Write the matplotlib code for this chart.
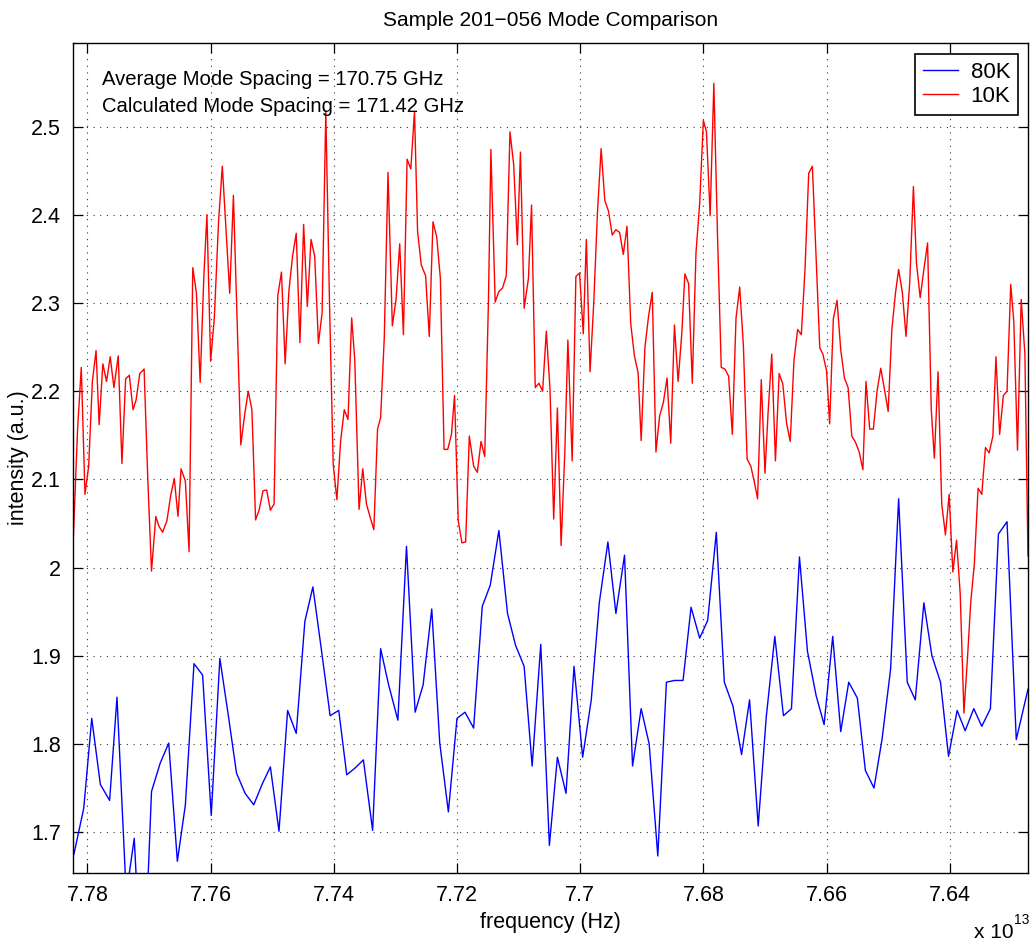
import numpy as np
import matplotlib
matplotlib.use("Agg")
import matplotlib.pyplot as plt
from matplotlib.ticker import FuncFormatter

plt.rcParams['font.family'] = ['Liberation Sans', 'DejaVu Sans']

# frequency in units of 1e13 Hz, intensity in a.u.
red_freq = [
    7.7823, 7.7816, 7.7810, 7.7804, 7.7798, 7.7792, 7.7786, 7.7781, 7.7775, 7.7769,
    7.7763, 7.7757, 7.7750, 7.7744, 7.7738, 7.7732, 7.7726, 7.7721, 7.7715, 7.7708,
    7.7702, 7.7696, 7.7689, 7.7684, 7.7678, 7.7671, 7.7665, 7.7659, 7.7653, 7.7648,
    7.7641, 7.7635, 7.7629, 7.7623, 7.7617, 7.7611, 7.7606, 7.7600, 7.7594, 7.7587,
    7.7581, 7.7575, 7.7569, 7.7563, 7.7557, 7.7551, 7.7545, 7.7539, 7.7533, 7.7527,
    7.7521, 7.7515, 7.7509, 7.7503, 7.7497, 7.7491, 7.7485, 7.7479, 7.7473, 7.7467,
    7.7461, 7.7455, 7.7449, 7.7443, 7.7437, 7.7431, 7.7425, 7.7419, 7.7413, 7.7407,
    7.7401, 7.7395, 7.7389, 7.7383, 7.7377, 7.7371, 7.7366, 7.7359, 7.7353, 7.7347,
    7.7341, 7.7335, 7.7329, 7.7324, 7.7318, 7.7312, 7.7305, 7.7299, 7.7293, 7.7287,
    7.7281, 7.7275, 7.7269, 7.7264, 7.7258, 7.7251, 7.7245, 7.7239, 7.7233, 7.7227,
    7.7221, 7.7215, 7.7209, 7.7204, 7.7198, 7.7192, 7.7186, 7.7180, 7.7173, 7.7167,
    7.7161, 7.7155, 7.7149, 7.7145, 7.7138, 7.7132, 7.7126, 7.7120, 7.7114, 7.7108,
    7.7102, 7.7097, 7.7091, 7.7084, 7.7079, 7.7073, 7.7067, 7.7061, 7.7055, 7.7049,
    7.7043, 7.7037, 7.7031, 7.7025, 7.7020, 7.7013, 7.7007, 7.7001, 7.6995, 7.6990,
    7.6984, 7.6978, 7.6972, 7.6966, 7.6960, 7.6954, 7.6948, 7.6942, 7.6936, 7.6930,
    7.6924, 7.6918, 7.6912, 7.6906, 7.6901, 7.6895, 7.6889, 7.6883, 7.6877, 7.6871,
    7.6865, 7.6859, 7.6853, 7.6847, 7.6841, 7.6835, 7.6830, 7.6824, 7.6818, 7.6812,
    7.6806, 7.6800, 7.6795, 7.6789, 7.6783, 7.6777, 7.6771, 7.6765, 7.6759, 7.6753,
    7.6747, 7.6741, 7.6735, 7.6729, 7.6723, 7.6717, 7.6712, 7.6706, 7.6700, 7.6695,
    7.6689, 7.6683, 7.6677, 7.6671, 7.6665, 7.6659, 7.6653, 7.6647, 7.6641, 7.6635,
    7.6629, 7.6623, 7.6617, 7.6611, 7.6606, 7.6600, 7.6595, 7.6589, 7.6583, 7.6577,
    7.6571, 7.6565, 7.6559, 7.6553, 7.6547, 7.6541, 7.6536, 7.6530, 7.6524, 7.6518,
    7.6512, 7.6506, 7.6500, 7.6494, 7.6488, 7.6483, 7.6477, 7.6471, 7.6465, 7.6459,
    7.6454, 7.6448, 7.6442, 7.6436, 7.6430, 7.6425, 7.6419, 7.6413, 7.6407, 7.6401,
    7.6395, 7.6389, 7.6383, 7.6377, 7.6371, 7.6366, 7.6360, 7.6354, 7.6348, 7.6342,
    7.6336, 7.6330, 7.6325, 7.6319, 7.6313, 7.6307, 7.6301, 7.6296, 7.6290, 7.6284,
    7.6278, 7.6273,
]
red_int = [
    2.032, 2.157, 2.227, 2.083, 2.115, 2.211, 2.246, 2.162, 2.231, 2.211,
    2.239, 2.204, 2.240, 2.118, 2.214, 2.218, 2.179, 2.190, 2.220, 2.225,
    2.100, 1.996, 2.058, 2.047, 2.040, 2.053, 2.081, 2.101, 2.058, 2.112,
    2.098, 2.018, 2.340, 2.311, 2.210, 2.330, 2.400, 2.234, 2.283, 2.394,
    2.455, 2.383, 2.311, 2.422, 2.280, 2.139, 2.172, 2.200, 2.179, 2.054,
    2.066, 2.087, 2.088, 2.065, 2.072, 2.308, 2.335, 2.231, 2.313, 2.353,
    2.379, 2.255, 2.389, 2.296, 2.372, 2.353, 2.254, 2.289, 2.517, 2.300,
    2.117, 2.077, 2.143, 2.179, 2.168, 2.283, 2.236, 2.066, 2.112, 2.072,
    2.057, 2.043, 2.157, 2.170, 2.262, 2.448, 2.274, 2.304, 2.367, 2.264,
    2.463, 2.452, 2.517, 2.381, 2.343, 2.331, 2.262, 2.392, 2.375, 2.328,
    2.134, 2.134, 2.151, 2.195, 2.053, 2.028, 2.029, 2.149, 2.115, 2.108,
    2.143, 2.126, 2.300, 2.474, 2.301, 2.313, 2.317, 2.331, 2.494, 2.457,
    2.366, 2.471, 2.294, 2.328, 2.411, 2.204, 2.209, 2.200, 2.268, 2.202,
    2.055, 2.181, 2.025, 2.130, 2.258, 2.121, 2.330, 2.334, 2.265, 2.372,
    2.222, 2.300, 2.402, 2.475, 2.416, 2.404, 2.377, 2.383, 2.380, 2.355,
    2.387, 2.277, 2.240, 2.221, 2.144, 2.249, 2.285, 2.312, 2.131, 2.172,
    2.187, 2.215, 2.141, 2.275, 2.211, 2.266, 2.333, 2.322, 2.209, 2.357,
    2.413, 2.507, 2.494, 2.399, 2.549, 2.375, 2.227, 2.225, 2.217, 2.151,
    2.283, 2.318, 2.251, 2.123, 2.115, 2.096, 2.078, 2.213, 2.107, 2.175,
    2.242, 2.121, 2.220, 2.208, 2.164, 2.143, 2.234, 2.270, 2.264, 2.338,
    2.447, 2.455, 2.353, 2.249, 2.242, 2.223, 2.163, 2.282, 2.303, 2.247,
    2.215, 2.204, 2.149, 2.142, 2.131, 2.111, 2.211, 2.157, 2.157, 2.200,
    2.226, 2.202, 2.177, 2.270, 2.312, 2.338, 2.312, 2.262, 2.323, 2.432,
    2.345, 2.306, 2.338, 2.368, 2.179, 2.124, 2.222, 2.072, 2.037, 2.083,
    1.995, 2.031, 1.970, 1.835, 1.900, 1.960, 2.005, 2.090, 2.083, 2.136,
    2.130, 2.149, 2.239, 2.151, 2.195, 2.200, 2.321, 2.279, 2.133, 2.304,
    2.242, 2.013,
]

blue_freq = [
    7.7822, 7.7806, 7.7793, 7.7779, 7.7764, 7.7752, 7.7737, 7.7724, 7.7710, 7.7696,
    7.7682, 7.7668, 7.7654, 7.7641, 7.7627, 7.7613, 7.7599, 7.7585, 7.7571, 7.7558,
    7.7544, 7.7530, 7.7516, 7.7503, 7.7489, 7.7475, 7.7461, 7.7447, 7.7434, 7.7420,
    7.7406, 7.7392, 7.7379, 7.7365, 7.7352, 7.7337, 7.7324, 7.7311, 7.7296, 7.7282,
    7.7268, 7.7255, 7.7241, 7.7228, 7.7214, 7.7200, 7.7187, 7.7173, 7.7159, 7.7146,
    7.7132, 7.7118, 7.7105, 7.7091, 7.7078, 7.7064, 7.7050, 7.7037, 7.7023, 7.7010,
    7.6996, 7.6982, 7.6969, 7.6955, 7.6942, 7.6928, 7.6915, 7.6901, 7.6888, 7.6874,
    7.6860, 7.6847, 7.6833, 7.6820, 7.6806, 7.6793, 7.6779, 7.6766, 7.6752, 7.6738,
    7.6725, 7.6711, 7.6698, 7.6684, 7.6670, 7.6657, 7.6644, 7.6631, 7.6617, 7.6604,
    7.6590, 7.6577, 7.6564, 7.6550, 7.6537, 7.6523, 7.6510, 7.6496, 7.6483, 7.6469,
    7.6456, 7.6442, 7.6429, 7.6415, 7.6402, 7.6388, 7.6375, 7.6361, 7.6348, 7.6334,
    7.6321, 7.6307, 7.6292, 7.6273,
]
blue_int = [
    1.675, 1.727, 1.829, 1.754, 1.736, 1.853, 1.629, 1.693, 1.500, 1.746,
    1.778, 1.801, 1.667, 1.731, 1.891, 1.878, 1.719, 1.897, 1.831, 1.767,
    1.744, 1.731, 1.755, 1.774, 1.701, 1.838, 1.812, 1.939, 1.978, 1.906,
    1.832, 1.838, 1.765, 1.773, 1.782, 1.702, 1.908, 1.867, 1.827, 2.024,
    1.836, 1.867, 1.953, 1.801, 1.723, 1.829, 1.836, 1.818, 1.956, 1.980,
    2.042, 1.948, 1.912, 1.888, 1.775, 1.913, 1.685, 1.785, 1.744, 1.888,
    1.785, 1.850, 1.960, 2.029, 1.948, 2.014, 1.775, 1.840, 1.800, 1.673,
    1.870, 1.872, 1.872, 1.955, 1.920, 1.940, 2.040, 1.870, 1.843, 1.788,
    1.850, 1.707, 1.830, 1.922, 1.832, 1.840, 2.012, 1.905, 1.855, 1.822,
    1.922, 1.814, 1.870, 1.852, 1.770, 1.750, 1.805, 1.885, 2.078, 1.870,
    1.850, 1.960, 1.900, 1.870, 1.786, 1.838, 1.815, 1.840, 1.820, 1.840,
    2.038, 2.052, 1.805, 1.862,
]

series_labels = ['80K', '10K']
x_ticks = [7.64, 7.66, 7.68, 7.70, 7.72, 7.74, 7.76, 7.78]
y_ticks = [1.7, 1.8, 1.9, 2.0, 2.1, 2.2, 2.3, 2.4, 2.5]
avg_spacing = 170.75
calc_spacing = 171.42

fig = plt.figure(figsize=(10.32, 9.44), dpi=100)
ax = fig.add_axes([0.0710, 0.0755, 0.9251, 0.8792])

ax.plot(blue_freq, blue_int, color=(0, 0, 1), lw=1.0, label=series_labels[0])
ax.plot(red_freq, red_int, color=(1, 0, 0), lw=1.0, label=series_labels[1])

ax.set_xlim(max(red_freq), min(red_freq))
ax.set_ylim(1.654, 2.595)
ax.set_xticks(x_ticks)
ax.set_yticks(y_ticks)
ax.xaxis.set_major_formatter(FuncFormatter(lambda v, p: '%g' % round(v, 4)))
ax.yaxis.set_major_formatter(FuncFormatter(lambda v, p: '%g' % round(v, 4)))
ax.grid(True, color='0.2', lw=0.8, linestyle=(0, (1, 5)))
ax.tick_params(direction='in', length=7, width=0.9, top=True, right=True,
               labelsize=15.5, colors='black', pad=9)
for s in ax.spines.values():
    s.set_linewidth(1.0)

ax.set_xlabel('frequency (Hz)', fontsize=15.5, labelpad=4)
ax.set_ylabel('intensity (a.u.)', fontsize=15.5)
ax.yaxis.set_label_coords(-0.046, 0.5)
ax.set_title('Sample 201\u2212056 Mode Comparison', fontsize=15, pad=12)

ax.text(0.0297, 0.949, 'Average Mode Spacing = %.2f GHz' % avg_spacing,
        transform=ax.transAxes, fontsize=14.6, va='baseline')
ax.text(0.0297, 0.917, 'Calculated Mode Spacing = %.2f GHz' % calc_spacing,
        transform=ax.transAxes, fontsize=14.6, va='baseline')

leg = ax.legend(loc='upper right', bbox_to_anchor=(0.9898, 0.9864), fontsize=16,
                fancybox=False, edgecolor='black', framealpha=1,
                handlelength=1.6, borderpad=0.35, labelspacing=0.15,
                handletextpad=0.55, borderaxespad=0)
leg.get_frame().set_linewidth(1.2)

# exponent note for the frequency axis
fig.text(0.944, 0.006, 'x 10', fontsize=15, va='baseline', ha='left')
fig.text(0.983, 0.021, '13', fontsize=10, va='baseline', ha='left')

fig.savefig('out.png', dpi=100)
